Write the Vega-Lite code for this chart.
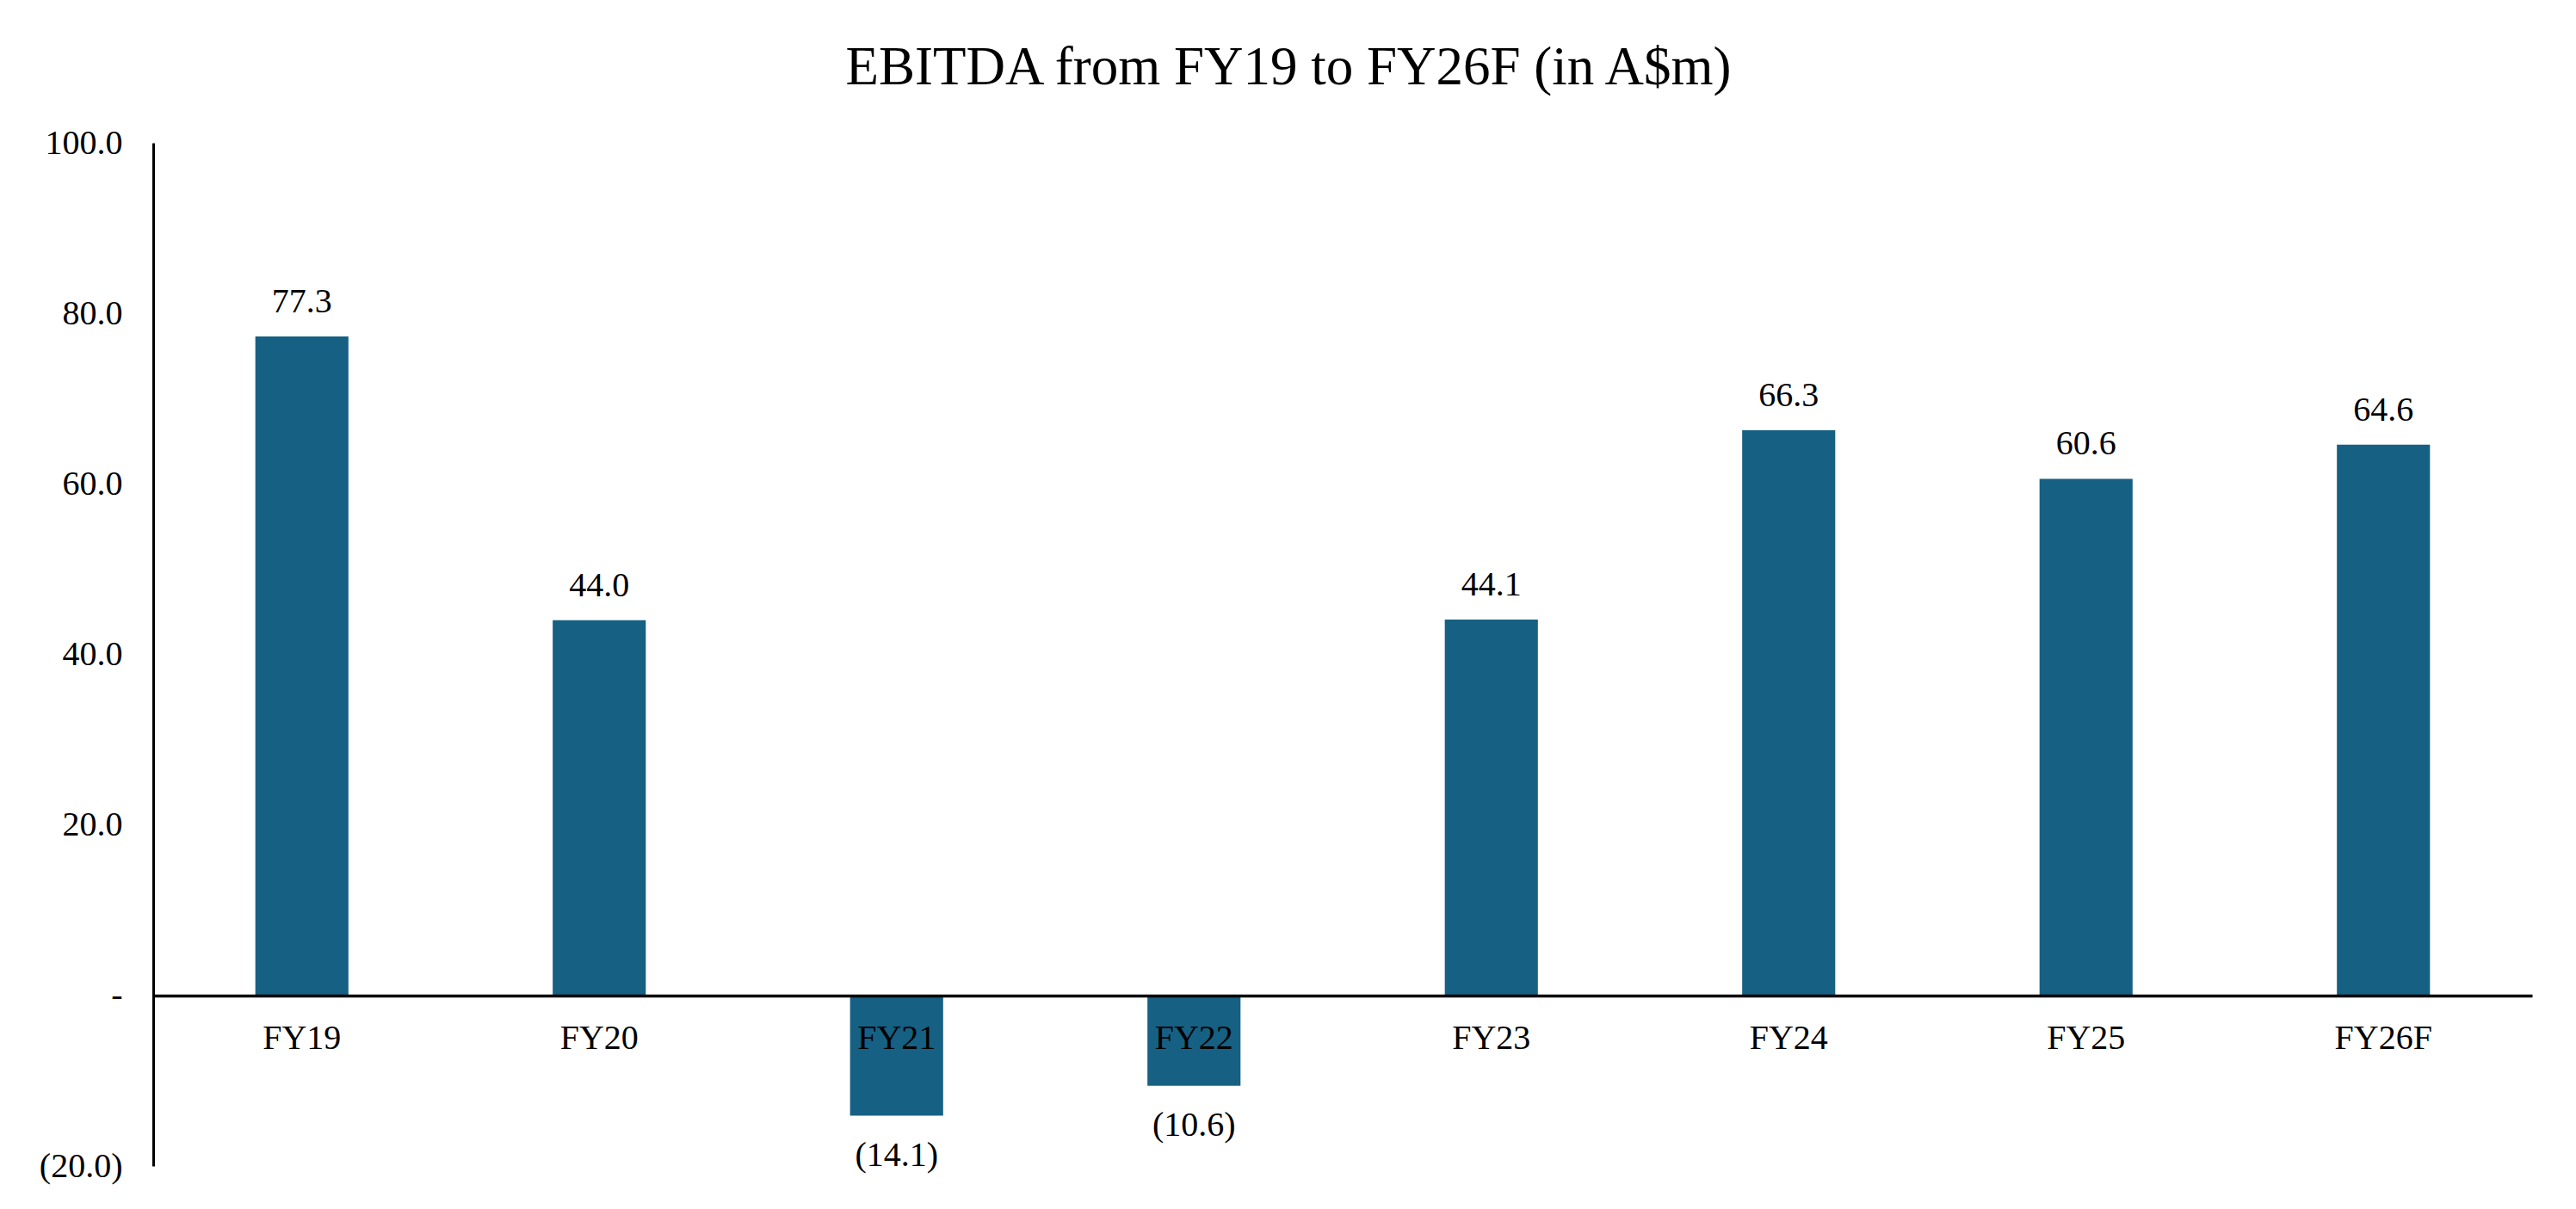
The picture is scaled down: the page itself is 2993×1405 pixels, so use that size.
{
  "$schema": "https://vega.github.io/schema/vega-lite/v6.json",
  "autosize": "none",
  "width": 2764,
  "height": 1189,
  "padding": {"left": 178, "top": 166, "right": 51, "bottom": 50},
  "background": "white",
  "config": {"view": {"stroke": null}, "font": "Liberation Serif"},
  "title": {
    "text": "EBITDA from FY19 to FY26F (in A$m)",
    "font": "Liberation Serif",
    "fontSize": 63,
    "fontWeight": "normal",
    "color": "black",
    "anchor": "middle",
    "frame": "group",
    "dx": -63,
    "offset": 35
  },
  "data": {
    "values": [
      {"year": "FY19", "value": 77.3, "label": "77.3"},
      {"year": "FY20", "value": 44.0, "label": "44.0"},
      {"year": "FY21", "value": -14.1, "label": "(14.1)"},
      {"year": "FY22", "value": -10.6, "label": "(10.6)"},
      {"year": "FY23", "value": 44.1, "label": "44.1"},
      {"year": "FY24", "value": 66.3, "label": "66.3"},
      {"year": "FY25", "value": 60.6, "label": "60.6"},
      {"year": "FY26F", "value": 64.6, "label": "64.6"}
    ]
  },
  "encoding": {
    "x": {
      "field": "year",
      "type": "nominal",
      "sort": null,
      "scale": {"paddingInner": 0.687, "paddingOuter": 0.3435},
      "axis": {
        "title": null,
        "orient": "bottom",
        "offset": -198,
        "labelAngle": 0,
        "ticks": false,
        "tickSize": 0,
        "domainColor": "black",
        "domainWidth": 3.5,
        "labelFont": "Liberation Serif",
        "labelFontSize": 40,
        "labelColor": "black",
        "labelPadding": 29,
        "zindex": 1
      }
    },
    "y": {
      "field": "value",
      "type": "quantitative",
      "scale": {"domain": [-20, 100], "nice": false},
      "axis": {
        "title": null,
        "values": [-20, 0, 20, 40, 60, 80, 100],
        "labelExpr": "datum.value == 0 ? '-\u00a0\u00a0' : (datum.value < 0 ? '(' + format(-datum.value, '.1f') + ')' : format(datum.value, '.1f') + '\u00a0')",
        "grid": false,
        "ticks": false,
        "tickSize": 0,
        "domainColor": "black",
        "domainWidth": 3,
        "labelFont": "Liberation Serif",
        "labelFontSize": 40,
        "labelColor": "black",
        "labelPadding": 36,
        "zindex": 1
      }
    }
  },
  "layer": [
    {"mark": {"type": "bar", "color": "#166083"}},
    {
      "transform": [{"filter": "datum.value >= 0"}],
      "mark": {"type": "text", "baseline": "alphabetic", "dy": -28, "font": "Liberation Serif", "fontSize": 40, "color": "black"},
      "encoding": {"text": {"field": "label"}}
    },
    {
      "transform": [{"filter": "datum.value < 0"}],
      "mark": {"type": "text", "baseline": "alphabetic", "dy": 58, "font": "Liberation Serif", "fontSize": 40, "color": "black"},
      "encoding": {"text": {"field": "label"}}
    }
  ]
}
